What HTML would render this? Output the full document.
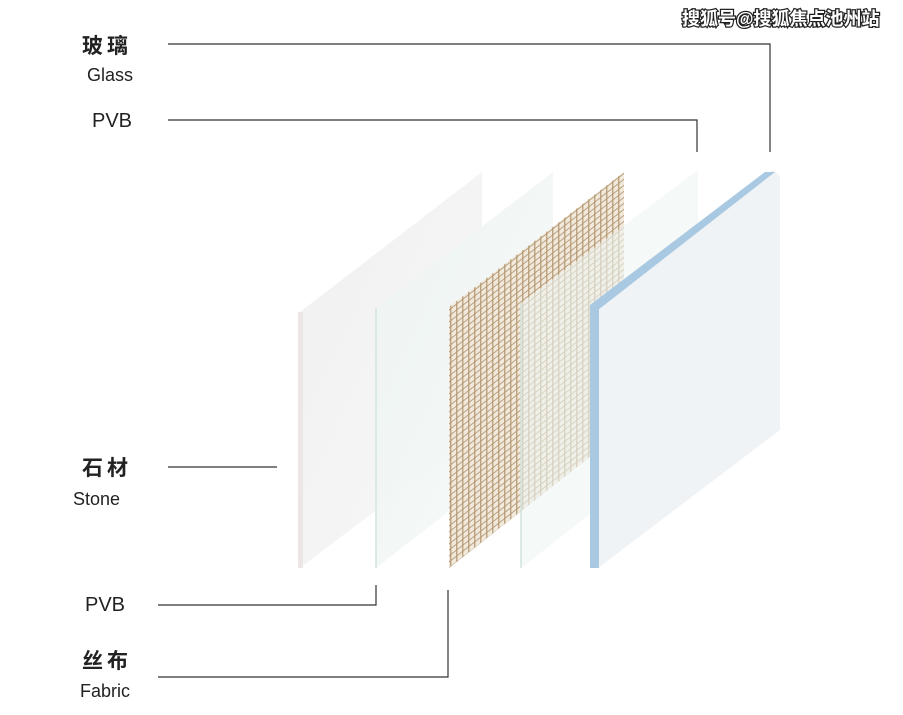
<!DOCTYPE html>
<html><head><meta charset="utf-8"><style>
html,body{margin:0;padding:0;background:#fff;}
svg{display:block}
text{font-family:"Liberation Sans","Noto Sans CJK SC",sans-serif;}
</style></head><body>
<svg width="903" height="715" viewBox="0 0 903 715" xmlns="http://www.w3.org/2000/svg">
<defs>
<pattern id="mesh" width="6" height="6" patternUnits="userSpaceOnUse" patternTransform="skewY(-38)">
<rect width="6" height="6" fill="#f1e9db"/>
<line x1="0.8" y1="0" x2="0.8" y2="6" stroke="#a98a62" stroke-width="1.1"/>
<line x1="0" y1="0.8" x2="6" y2="0.8" stroke="#b39570" stroke-width="1.1"/>
</pattern>
<linearGradient id="gs" x1="0" y1="0" x2="1" y2="1">
<stop offset="0" stop-color="#f0f0f0"/><stop offset="1" stop-color="#f8f8f8"/>
</linearGradient>
<linearGradient id="gp" x1="0" y1="0" x2="1" y2="1">
<stop offset="0" stop-color="#edf4f2"/><stop offset="1" stop-color="#f6f9f8"/>
</linearGradient>
</defs>
<!-- stone -->
<polygon points="300,312 482,172 482,430 300,568" fill="url(#gs)"/>
<rect x="298" y="312" width="5" height="256" fill="#ece6e6"/>
<!-- PVB 1 -->
<polygon points="376,308 553,172 553,430 376,568" fill="url(#gp)" opacity="0.9"/>
<line x1="376" y1="308" x2="376" y2="568" stroke="#d3e3de" stroke-width="1.5"/>
<!-- fabric -->
<polygon points="449,307 624,172 624,430 449,568" fill="url(#mesh)"/>
<!-- PVB 2 -->
<polygon points="521,303 698,170 698,430 521,568" fill="#eef5f2" opacity="0.6"/>
<line x1="521" y1="303" x2="521" y2="568" stroke="#d3e3de" stroke-width="1.5"/>
<!-- glass -->
<polygon points="590,305 773,170 780,176 780,430 598,568 590,568" fill="#f0f3f5"/>
<polygon points="590,305 765,172 775,172 598,310" fill="#a9c9e2"/>
<rect x="590" y="305" width="9" height="263" fill="#a9c9e2"/>
<!-- leader lines -->
<g stroke="#333" stroke-width="1.2" fill="none">
<polyline points="168,44 770,44 770,152"/>
<polyline points="168,120 697,120 697,152"/>
<line x1="168" y1="467" x2="277" y2="467"/>
<polyline points="158,605 376,605 376,585"/>
<polyline points="158,677 448,677 448,590"/>
</g>
<!-- labels -->
<g fill="#222">
<text x="82" y="53" font-size="21" font-weight="bold" letter-spacing="4">玻璃</text>
<text x="87" y="81" font-size="18">Glass</text>
<text x="92" y="127" font-size="20">PVB</text>
<text x="82" y="475" font-size="21" font-weight="bold" letter-spacing="4">石材</text>
<text x="73" y="505" font-size="18">Stone</text>
<text x="85" y="611" font-size="20">PVB</text>
<text x="82" y="668" font-size="21" font-weight="bold" letter-spacing="4">丝布</text>
<text x="80" y="697" font-size="18">Fabric</text>
</g>
<text x="682" y="25" font-size="18" font-weight="bold" fill="#fff" stroke="#222" stroke-width="2.5" paint-order="stroke">搜狐号@搜狐焦点池州站</text>
</svg>
</body></html>
